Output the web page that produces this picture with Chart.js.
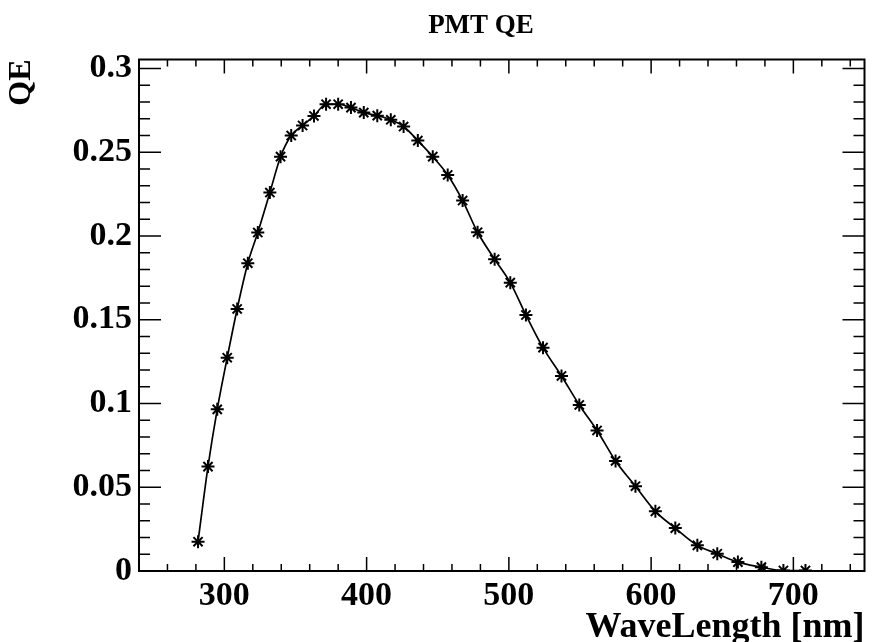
<!DOCTYPE html>
<html>
<head>
<meta charset="utf-8">
<script src="https://cdn.jsdelivr.net/npm/chart.js@4/dist/chart.umd.min.js"></script>
<style>
  html, body { margin: 0; padding: 0; background: #fff; }
  canvas { display: block; }
</style>
</head>
<body>
<canvas id="qe" width="873" height="642"></canvas>
<script>
// длины волн (нм) и квантовая эффективность ФЭУ
const wavelength = [281.5, 288.5, 295, 302, 309, 316.5, 323.5, 332, 339.5, 347, 355, 363, 371.5, 380, 389, 398,
    407.5, 417, 426, 436, 446.5, 457, 467.5, 478, 490, 501, 512, 524, 537, 549.5, 562, 575, 589, 603, 617,
    632.5, 646.5, 661, 677.5, 693, 708.5];
const qe = [0.0175, 0.0623, 0.0965, 0.1273, 0.1564, 0.1837, 0.2020, 0.2259, 0.2473, 0.2599, 0.2659, 0.2716,
    0.2786, 0.2786, 0.2766, 0.2736, 0.2718, 0.2693, 0.2653, 0.2569, 0.2473, 0.2364, 0.2211, 0.2022, 0.1861,
    0.1721, 0.1528, 0.1333, 0.1164, 0.0991, 0.0839, 0.0657, 0.0506, 0.0356, 0.0256, 0.0153, 0.0103, 0.0053,
    0.0023, 0.0003, 0.0003];

const xTicks = [300, 400, 500, 600, 700];
const yTicks = [0, 0.05, 0.1, 0.15, 0.2, 0.25, 0.3];
const xRange = [240, 750];
const yRange = [0, 0.3053];
const chartTitle = 'PMT QE';

const SERIF = '"Liberation Serif", "Times New Roman", serif';

// рамка и засечки внутрь, как в ROOT
const rootFrame = {
    id: 'rootFrame',
    afterDatasetsDraw(chart) {
        const { ctx, chartArea: a, scales: { x, y } } = chart;
        ctx.save();
        ctx.strokeStyle = '#000';
        ctx.lineWidth = 1.5;
        ctx.beginPath();
        for (let v = 240; v <= 750; v += 20) {
            const px = x.getPixelForValue(v);
            const len = v % 100 === 0 ? 14 : 7;
            ctx.moveTo(px, a.bottom); ctx.lineTo(px, a.bottom - len);
            ctx.moveTo(px, a.top); ctx.lineTo(px, a.top + len);
        }
        for (let i = 0; i <= 30; i++) {
            const py = y.getPixelForValue(i / 100);
            const len = i % 5 === 0 ? 22 : 11;
            ctx.moveTo(a.left, py); ctx.lineTo(a.left + len, py);
            ctx.moveTo(a.right, py); ctx.lineTo(a.right - len, py);
        }
        ctx.stroke();
        ctx.lineWidth = 2;
        ctx.strokeRect(a.left, a.top, a.right - a.left, a.bottom - a.top);
        ctx.restore();
    }
};

// заголовок сдвинут вправо, как на оригинале
const padTitle = {
    id: 'padTitle',
    afterDraw(chart) {
        const { ctx } = chart;
        ctx.save();
        ctx.fillStyle = '#000';
        ctx.font = 'bold 27px ' + SERIF;
        ctx.textAlign = 'center';
        ctx.textBaseline = 'middle';
        ctx.fillText(chartTitle, 481, 26);
        ctx.restore();
    }
};

new Chart(document.getElementById('qe'), {
    type: 'line',
    data: {
        datasets: [{
            label: chartTitle,
            data: wavelength.map((w, i) => ({ x: w, y: qe[i] })),
            borderColor: '#000',
            backgroundColor: '#000',
            borderWidth: 1.7,
            cubicInterpolationMode: 'monotone',
            pointStyle: 'star',
            pointRadius: 6.5,
            pointBorderWidth: 2,
            pointBorderColor: '#000',
            fill: false,
        }],
    },
    options: {
        responsive: false,
        animation: false,
        layout: { padding: { top: 59.5, right: 7, left: 0, bottom: 0 } },
        plugins: {
            legend: { display: false },
            tooltip: { enabled: false },
            title: { display: false },
        },
        scales: {
            x: {
                type: 'linear',
                min: xRange[0],
                max: xRange[1],
                afterBuildTicks: s => { s.ticks = xTicks.map(v => ({ value: v })); },
                afterFit: s => { s.height = 71; },
                grid: { display: false, drawTicks: false },
                border: { display: false },
                ticks: {
                    color: '#000',
                    padding: 5,
                    maxRotation: 0,
                    font: { family: SERIF, size: 34, weight: 'bold' },
                    callback: v => String(v),
                },
                title: {
                    display: true,
                    text: 'WaveLength [nm]',
                    align: 'end',
                    color: '#000',
                    font: { family: SERIF, size: 36, weight: 'bold', lineHeight: 0.9 },
                    padding: { top: 0, bottom: -2 },
                },
            },
            y: {
                type: 'linear',
                min: yRange[0],
                max: yRange[1],
                afterBuildTicks: s => { s.ticks = yTicks.map(v => ({ value: v })); },
                afterFit: s => { s.width = 139; },
                grid: { display: false, drawTicks: false },
                border: { display: false },
                ticks: {
                    color: '#000',
                    padding: 7,
                    font: { family: SERIF, size: 34, weight: 'bold' },
                    callback: v => String(+v.toFixed(2)),
                },
                title: {
                    display: true,
                    text: 'QE',
                    align: 'end',
                    color: '#000',
                    font: { family: SERIF, size: 32, weight: 'bold', lineHeight: 1 },
                    padding: { top: 6, bottom: 0 },
                },
            },
        },
    },
    plugins: [rootFrame, padTitle],
});
</script>
</body>
</html>
